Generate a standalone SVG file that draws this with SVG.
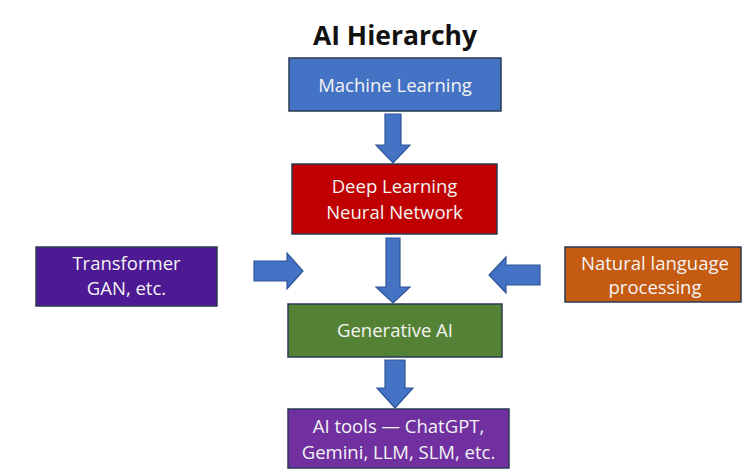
<svg xmlns="http://www.w3.org/2000/svg" width="750" height="476" viewBox="0 0 750 476">
<style>
.box{stroke:#2b3a55;stroke-width:1.5}
.lbl{font-family:"Open Sans","Liberation Sans",sans-serif;font-size:18.5px;fill:#f4f4f4;text-anchor:middle}
.arr{fill:#4472c4;stroke:#2f5597;stroke-width:1.2;stroke-linejoin:miter}
.title{font-family:"Open Sans","Liberation Sans",sans-serif;font-size:26.5px;font-weight:bold;fill:#111;text-anchor:middle}
</style>
<rect width="750" height="476" fill="#ffffff"/>
<text class="title" x="395" y="45">AI Hierarchy</text>
<g id="ml">
<rect class="box" x="289" y="58" width="212" height="53" fill="#4472c4"/>
<text class="lbl" x="395" y="92">Machine Learning</text>
</g>
<g id="dl">
<rect class="box" x="292" y="164" width="205" height="70" fill="#c00000"/>
<text class="lbl" x="394.5" y="193">Deep Learning</text>
<text class="lbl" x="394.5" y="219">Neural Network</text>
</g>
<g id="transformer">
<rect class="box" x="36" y="247" width="181" height="59" fill="#4e1a94"/>
<text class="lbl" x="126.5" y="270">Transformer</text>
<text class="lbl" x="126.5" y="295">GAN, etc.</text>
</g>
<g id="nlp">
<rect class="box" x="565" y="247" width="176" height="55" fill="#c55a11"/>
<text class="lbl" x="655" y="270">Natural language</text>
<text class="lbl" x="655" y="294">processing</text>
</g>
<g id="genai">
<rect class="box" x="288" y="304" width="214" height="53" fill="#548235"/>
<text class="lbl" x="395" y="337">Generative AI</text>
</g>
<g id="tools">
<rect class="box" x="288" y="409" width="221" height="59" fill="#7030a0"/>
<text class="lbl" x="398.5" y="433">AI tools — ChatGPT,</text>
<text class="lbl" x="398.5" y="459">Gemini, LLM, SLM, etc.</text>
</g>
<g id="connectors">
<polygon class="arr" points="385,114 401,114 401,145 410,145 393,163 376,145 385,145"/>
<polygon class="arr" points="386,238 400,238 400,287 410,287 393,303 376,287 386,287"/>
<polygon class="arr" points="385,360 405,360 405,388 413,388 395,408 377,388 385,388"/>
<polygon class="arr" points="254,261 287,261 287,253 303,271 287,289 287,281 254,281"/>
<polygon class="arr" points="540,265 506,265 506,257 489,275 506,293 506,285 540,285"/>
</g>
</svg>
